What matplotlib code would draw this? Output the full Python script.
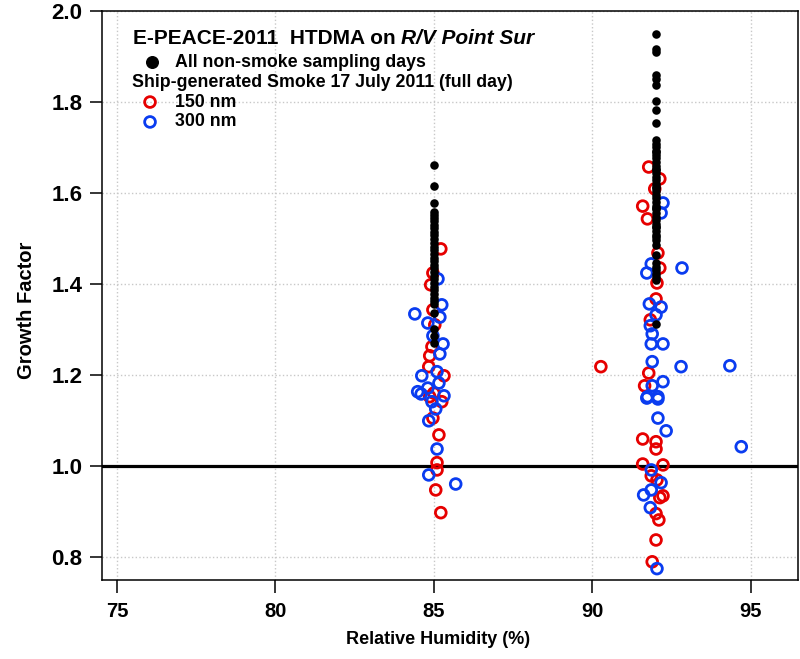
import numpy as np
import matplotlib
matplotlib.use("Agg")
import matplotlib.pyplot as plt

# E-PEACE 2011 HTDMA growth factors vs RH
plt.rcParams['font.family'] = ['Liberation Sans', 'DejaVu Sans']
plt.rcParams['font.weight'] = 'bold'

# all non-smoke sampling days (black dots)
bg_rh = [85.0] * 34 + [92.0] * 52
bg_gf = [1.662, 1.615, 1.578, 1.559, 1.552, 1.545, 1.538, 1.530, 1.522, 1.515,
         1.507, 1.499, 1.490, 1.482, 1.474, 1.466, 1.458, 1.450, 1.442, 1.434,
         1.426, 1.418, 1.410, 1.402, 1.394, 1.386, 1.378, 1.370, 1.362, 1.355,
         1.336, 1.300, 1.285, 1.270,
         1.949, 1.916, 1.910, 1.860, 1.850, 1.837, 1.802, 1.782, 1.754, 1.716,
         1.708, 1.700, 1.692, 1.684, 1.676, 1.668, 1.660, 1.652, 1.644, 1.636,
         1.628, 1.620, 1.612, 1.604, 1.596, 1.588, 1.580, 1.572, 1.564, 1.556,
         1.548, 1.540, 1.532, 1.524, 1.516, 1.508, 1.503, 1.486, 1.464, 1.446,
         1.438, 1.430, 1.422, 1.415, 1.409, 1.312, 1.497, 1.525, 1.566, 1.610,
         1.650, 1.690]

# smoke day, 150 nm
rh_150 = [85.22, 84.97, 84.90, 84.97, 85.03, 84.94, 84.87, 84.84, 85.32, 84.87,
          85.25, 84.97, 85.16, 85.10, 85.10, 85.06, 85.22, 85.00,
          91.78, 92.13, 91.97, 91.59, 91.74, 92.07, 92.13, 92.04, 92.01, 91.83,
          90.27, 91.78, 91.65, 91.59, 92.01, 92.01, 91.59, 92.23, 91.86, 92.04,
          92.23, 92.13, 92.01, 92.10, 92.01, 91.89]
gf_150 = [1.477, 1.424, 1.398, 1.343, 1.310, 1.262, 1.242, 1.218, 1.198, 1.152,
          1.141, 1.105, 1.068, 1.007, 0.991, 0.947, 0.897, 1.160,
          1.657, 1.631, 1.609, 1.571, 1.543, 1.468, 1.435, 1.402, 1.367, 1.321,
          1.218, 1.204, 1.176, 1.059, 1.053, 1.037, 1.004, 1.002, 0.978, 0.969,
          0.934, 0.930, 0.895, 0.881, 0.837, 0.789]

# smoke day, 300 nm
rh_300 = [85.13, 85.25, 84.40, 84.81, 85.19, 84.97, 85.29, 85.19, 85.10, 84.62,
          85.16, 84.81, 84.49, 85.32, 84.94, 85.06, 84.84, 85.10, 84.84, 85.69,
          84.60,
          92.23, 92.17, 91.86, 92.83, 91.72, 91.80, 92.17, 92.01, 91.83, 91.89,
          91.86, 92.23, 91.89, 92.80, 94.34, 92.23, 91.89, 91.74, 92.07, 91.72,
          92.07, 92.07, 92.33, 94.70, 91.86, 92.17, 91.86, 91.62, 91.83, 92.04]
gf_300 = [1.411, 1.354, 1.334, 1.314, 1.327, 1.286, 1.268, 1.246, 1.207, 1.198,
          1.182, 1.171, 1.163, 1.154, 1.141, 1.125, 1.099, 1.037, 0.980, 0.960,
          1.158,
          1.578, 1.556, 1.444, 1.435, 1.424, 1.356, 1.349, 1.332, 1.308, 1.290,
          1.268, 1.268, 1.229, 1.218, 1.220, 1.185, 1.176, 1.152, 1.152, 1.149,
          1.147, 1.105, 1.077, 1.042, 0.991, 0.963, 0.947, 0.936, 0.908, 0.774]

x_ticks = [75, 80, 85, 90, 95]
y_ticks = [0.8, 1.0, 1.2, 1.4, 1.6, 1.8, 2.0]

red = '#e60000'
blue = '#0a3cf0'

fig = plt.figure(figsize=(8, 6.59), dpi=100)
ax = fig.add_axes([0.1275, 0.1199, 0.87, 0.8634])

ax.axhline(1.0, color='black', lw=2.3, zorder=1)
ax.scatter(rh_150, gf_150, s=60, facecolors='none', edgecolors=red, linewidths=2.0, zorder=3)
ax.scatter(rh_300, gf_300, s=60, facecolors='none', edgecolors=blue, linewidths=2.0, zorder=3)
ax.scatter(bg_rh, bg_gf, s=38, color='black', linewidths=0, zorder=4)

ax.set_xlim(74.53, 96.49)
ax.set_ylim(0.749, 2.0)
ax.set_xticks(x_ticks)
ax.set_yticks(y_ticks)
ax.set_xticklabels([str(v) for v in x_ticks])
ax.set_yticklabels(['%.1f' % v for v in y_ticks])
ax.tick_params(axis='x', length=9, width=1.1, pad=7, labelsize=14.5)
ax.tick_params(axis='y', length=9, width=1.1, pad=5, labelsize=16)
ax.grid(True, color='#c8c8c8', linestyle=':', linewidth=1.0, zorder=0)
ax.set_axisbelow(True)
for sp in ax.spines.values():
    sp.set_linewidth(1.1)

fig.text(438 / 800, 1 - 640 / 659, 'Relative Humidity (%)', ha='center', va='center',
         fontsize=13, fontweight='bold')
fig.text(27 / 800, 1 - 310 / 659, 'Growth Factor', ha='center', va='center',
         rotation=90, fontsize=14.5, fontweight='bold')

# legend block, drawn by hand
tr = ax.transAxes
t = ax.text(0.0445, 0.9525, 'E-PEACE-2011  HTDMA on ', transform=tr, fontsize=15,
            fontweight='bold', va='center', ha='left')
fig.canvas.draw()
bb = t.get_window_extent().transformed(tr.inverted())
ax.text(bb.x1, 0.9525, 'R/V Point Sur', transform=tr, fontsize=15,
        fontweight='bold', style='italic', va='center', ha='left')

ax.scatter([0.0718], [0.910], s=70, color='black', transform=tr, clip_on=False)
ax.text(0.105, 0.910, 'All non-smoke sampling days', transform=tr, fontsize=12.8,
        fontweight='bold', va='center', ha='left')
ax.text(0.043, 0.875, 'Ship-generated Smoke 17 July 2011 (full day)', transform=tr,
        fontsize=12.8, fontweight='bold', va='center', ha='left')
ax.scatter([0.069], [0.840], s=60, facecolors='none', edgecolors=red, linewidths=2.0,
           transform=tr, clip_on=False)
ax.text(0.105, 0.840, '150 nm', transform=tr, fontsize=12.8, fontweight='bold',
        va='center', ha='left')
ax.scatter([0.069], [0.805], s=60, facecolors='none', edgecolors=blue, linewidths=2.0,
           transform=tr, clip_on=False)
ax.text(0.105, 0.805, '300 nm', transform=tr, fontsize=12.8, fontweight='bold',
        va='center', ha='left')

fig.savefig('out.png', dpi=100)
